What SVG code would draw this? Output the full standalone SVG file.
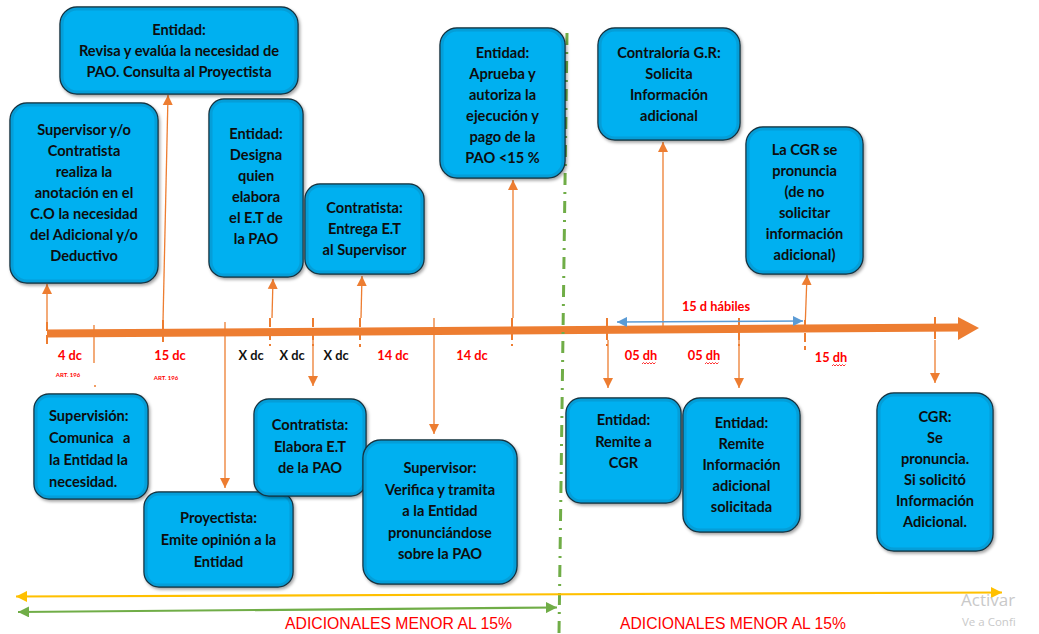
<svg xmlns="http://www.w3.org/2000/svg" width="1039" height="634" viewBox="0 0 1039 634">
  <style>
    .box rect.bg { fill: #00B0F0; stroke: #15303d; stroke-width: 1.4; }
    .box rect.edge { fill: none; stroke: #0a8fc4; stroke-width: 3; opacity: 0.55; }
    .box text { font-family: Lato, "Open Sans", "Liberation Sans", sans-serif; font-weight: bold; font-size: 14.6px; fill: #0d0d0d; text-anchor: middle; }
    .box text.left { text-anchor: start; }
    .conn { stroke: #ED7D31; stroke-width: 1.3; fill: none; }
    .tick { stroke: #ED7D31; stroke-width: 2; stroke-dasharray: 9 4; fill: none; }
    .lbl { font-family: Lato, "Open Sans", "Liberation Sans", sans-serif; font-weight: bold; font-size: 12.8px; fill: #FF0000; text-anchor: middle; }
    .lbl.blk { fill: #111; }
    .art { font-family: Lato, "Liberation Sans", sans-serif; font-weight: bold; font-size: 6px; fill: #FF0000; text-anchor: middle; }
    .band { font-family: "Liberation Sans Narrow", "Liberation Sans", Arial, sans-serif; font-size: 16px; fill: #FF0000; }
    .wm { font-family: "Open Sans", "Liberation Sans", sans-serif; fill: #c9c9c9; }
  </style>
  <defs>
    <filter id="shadow" x="-10%" y="-10%" width="125%" height="125%">
      <feDropShadow dx="1.5" dy="2" stdDeviation="1.5" flood-color="#000" flood-opacity="0.35"/>
    </filter>
    <marker id="ah" viewBox="0 0 10 10" refX="10" refY="5" markerWidth="10" markerHeight="11" markerUnits="userSpaceOnUse" orient="auto">
      <path d="M0,0 L10,5 L0,10 z" fill="#ED7D31"/>
    </marker>
    <marker id="bh" viewBox="0 0 10 10" refX="10" refY="5" markerWidth="11" markerHeight="10" markerUnits="userSpaceOnUse" orient="auto-start-reverse">
      <path d="M0,0 L10,5 L0,10 z" fill="#5B9BD5"/>
    </marker>
    <marker id="yh" viewBox="0 0 10 10" refX="10" refY="5" markerWidth="11" markerHeight="11" markerUnits="userSpaceOnUse" orient="auto-start-reverse">
      <path d="M0,0 L10,5 L0,10 z" fill="#FFC000"/>
    </marker>
    <marker id="gh" viewBox="0 0 10 10" refX="10" refY="5" markerWidth="11" markerHeight="11" markerUnits="userSpaceOnUse" orient="auto-start-reverse">
      <path d="M0,0 L10,5 L0,10 z" fill="#70AD47"/>
    </marker>
  </defs>

  <!-- main time axis -->
  <g id="timeline">
    <line x1="47" y1="333.5" x2="960" y2="327.5" stroke="#ED7D31" stroke-width="8"/>
    <polygon points="958,317 979,328 958,340" fill="#ED7D31"/>
  </g>

  <!-- phase divider -->
  <line id="divider" x1="567" y1="33" x2="559" y2="634" stroke="#70AD47" stroke-width="3" stroke-dasharray="12 7 2 7"/>

  <!-- connectors -->
  <g id="connectors">
    <!-- tick marks on the axis -->
    <line class="tick" x1="47" y1="322" x2="47" y2="346"/>
    <line class="tick" x1="163" y1="320" x2="163" y2="346"/>
    <line class="tick" x1="270" y1="318" x2="270" y2="346"/>
    <line class="tick" x1="313" y1="318" x2="313" y2="346"/>
    <line class="tick" x1="360" y1="318" x2="360" y2="347"/>
    <line class="tick" x1="512" y1="318" x2="512" y2="346"/>
    <line class="tick" x1="607" y1="318" x2="607" y2="346"/>
    <line class="tick" x1="739" y1="318" x2="739" y2="346"/>
    <line class="tick" x1="805" y1="320" x2="805" y2="350"/>
    <line class="tick" x1="935" y1="317" x2="935" y2="342"/>
    <line class="conn" x1="94" y1="325" x2="94" y2="363"/>
    <circle cx="95" cy="386" r="1" fill="#ED7D31"/>

    <!-- upward links to the boxes above -->
    <line class="conn" x1="47" y1="322" x2="47" y2="284" marker-end="url(#ah)"/>
    <line class="conn" x1="163" y1="322" x2="168" y2="95" marker-end="url(#ah)"/>
    <line class="conn" x1="272" y1="318" x2="273" y2="279" marker-end="url(#ah)"/>
    <line class="conn" x1="361" y1="318" x2="362" y2="276" marker-end="url(#ah)"/>
    <line class="conn" x1="513" y1="318" x2="513" y2="180" marker-end="url(#ah)"/>
    <line class="conn" x1="663" y1="330" x2="663" y2="142" marker-end="url(#ah)"/>
    <line class="conn" x1="805" y1="330" x2="807" y2="275" marker-end="url(#ah)"/>

    <!-- downward links to the boxes below -->
    <line class="conn" x1="225" y1="322" x2="225" y2="488" marker-end="url(#ah)"/>
    <line class="conn" x1="313" y1="340" x2="313" y2="386" marker-end="url(#ah)"/>
    <line class="conn" x1="434" y1="318" x2="434" y2="434" marker-end="url(#ah)"/>
    <line class="conn" x1="608" y1="340" x2="608" y2="388" marker-end="url(#ah)"/>
    <line class="conn" x1="739" y1="340" x2="739" y2="388" marker-end="url(#ah)"/>
    <line class="conn" x1="935" y1="340" x2="935" y2="383" marker-end="url(#ah)"/>

    <!-- business-day span -->
    <line x1="617" y1="322" x2="803" y2="321" stroke="#5B9BD5" stroke-width="1.6" marker-start="url(#bh)" marker-end="url(#bh)"/>

    <!-- range arrows at the bottom -->
    <line x1="16" y1="596.5" x2="1002" y2="592.5" stroke="#FFC000" stroke-width="2.2" marker-start="url(#yh)" marker-end="url(#yh)"/>
    <line x1="18" y1="612" x2="557" y2="607.5" stroke="#70AD47" stroke-width="2.2" marker-start="url(#gh)" marker-end="url(#gh)"/>
  </g>

  <!-- interval labels -->
  <g id="labels">
    <text class="lbl" x="70" y="360">4 dc</text>
    <text class="art" x="68" y="377">ART. 196</text>
    <text class="lbl" x="170" y="360">15 dc</text>
    <text class="art" x="166" y="380">ART. 196</text>
    <text class="lbl blk" x="251" y="360">X dc</text>
    <text class="lbl blk" x="292" y="360">X dc</text>
    <text class="lbl blk" x="336" y="360">X dc</text>
    <text class="lbl" x="393" y="360">14 dc</text>
    <text class="lbl" x="472" y="360">14 dc</text>
    <text class="lbl" x="641" y="360">05 dh</text>
    <text class="lbl" x="704" y="360">05 dh</text>
    <text class="lbl" x="831" y="362">15 dh</text>
    <text class="lbl" x="716" y="311">15 d hábiles</text>
    <!-- spell-check squiggles under "dh" -->
    <path d="M642,364 l1.5,-1.5 l1.5,1.5 l1.5,-1.5 l1.5,1.5 l1.5,-1.5 l1.5,1.5 l1.5,-1.5 l1.5,1.5 l1.5,-1.5" stroke="#FF0000" stroke-width="0.8" fill="none"/>
    <path d="M705,364 l1.5,-1.5 l1.5,1.5 l1.5,-1.5 l1.5,1.5 l1.5,-1.5 l1.5,1.5 l1.5,-1.5 l1.5,1.5 l1.5,-1.5" stroke="#FF0000" stroke-width="0.8" fill="none"/>
    <path d="M832,366 l1.5,-1.5 l1.5,1.5 l1.5,-1.5 l1.5,1.5 l1.5,-1.5 l1.5,1.5 l1.5,-1.5 l1.5,1.5 l1.5,-1.5" stroke="#FF0000" stroke-width="0.8" fill="none"/>
    <text class="band" x="285" y="629" textLength="227" lengthAdjust="spacingAndGlyphs">ADICIONALES MENOR AL 15%</text>
    <text class="band" x="620" y="629" textLength="226" lengthAdjust="spacingAndGlyphs">ADICIONALES MENOR AL 15%</text>
    <text class="wm" x="961" y="606" font-size="17">Activar</text>
    <text class="wm" x="962" y="626" font-size="11.5">Ve a Confi</text>
  </g>

  <!-- activity boxes above the axis -->
  <g id="n-supervisor-anota" class="box">
    <rect class="bg" x="10" y="103" width="148" height="180" rx="17" filter="url(#shadow)"/>
    <rect class="edge" x="12" y="105" width="144" height="176" rx="15"/>
    <text x="84" y="135">Supervisor y/o</text>
    <text x="84" y="156">Contratista</text>
    <text x="84" y="177">realiza la</text>
    <text x="84" y="198">anotación en el</text>
    <text x="84" y="219">C.O la necesidad</text>
    <text x="84" y="240">del Adicional y/o</text>
    <text x="84" y="261">Deductivo</text>
  </g>

  <g id="n-entidad-revisa" class="box">
    <rect class="bg" x="60" y="7" width="238" height="87" rx="17" filter="url(#shadow)"/>
    <rect class="edge" x="62" y="9" width="234" height="83" rx="15"/>
    <text x="179" y="35">Entidad:</text>
    <text x="179" y="56">Revisa y evalúa la necesidad de</text>
    <text x="179" y="77">PAO. Consulta al Proyectista</text>
  </g>

  <g id="n-entidad-designa" class="box">
    <rect class="bg" x="209" y="99" width="94" height="178" rx="15" filter="url(#shadow)"/>
    <rect class="edge" x="211" y="101" width="90" height="174" rx="13"/>
    <text x="256" y="139">Entidad:</text>
    <text x="256" y="160">Designa</text>
    <text x="256" y="181">quien</text>
    <text x="256" y="202">elabora</text>
    <text x="256" y="223">el E.T de</text>
    <text x="256" y="244">la PAO</text>
  </g>

  <g id="n-contratista-entrega" class="box">
    <rect class="bg" x="305" y="184" width="119" height="90" rx="15" filter="url(#shadow)"/>
    <rect class="edge" x="307" y="186" width="115" height="86" rx="13"/>
    <text x="364.5" y="213">Contratista:</text>
    <text x="364.5" y="234">Entrega E.T</text>
    <text x="364.5" y="255">al Supervisor</text>
  </g>

  <g id="n-entidad-aprueba" class="box">
    <rect class="bg" x="440" y="28" width="125" height="150" rx="17" filter="url(#shadow)"/>
    <rect class="edge" x="442" y="30" width="121" height="146" rx="15"/>
    <text x="502.5" y="58">Entidad:</text>
    <text x="502.5" y="79">Aprueba y</text>
    <text x="502.5" y="100">autoriza la</text>
    <text x="502.5" y="121">ejecución y</text>
    <text x="502.5" y="142">pago de la</text>
    <text x="502.5" y="163">PAO &lt;15 %</text>
  </g>

  <g id="n-contraloria-solicita" class="box">
    <rect class="bg" x="598" y="28" width="142" height="112" rx="17" filter="url(#shadow)"/>
    <rect class="edge" x="600" y="30" width="138" height="108" rx="15"/>
    <text x="669" y="58">Contraloría G.R:</text>
    <text x="669" y="79">Solicita</text>
    <text x="669" y="100">Información</text>
    <text x="669" y="121">adicional</text>
  </g>

  <g id="n-cgr-pronuncia" class="box">
    <rect class="bg" x="746" y="127" width="117" height="147" rx="17" filter="url(#shadow)"/>
    <rect class="edge" x="748" y="129" width="113" height="143" rx="15"/>
    <text x="804.5" y="155">La CGR se</text>
    <text x="804.5" y="176">pronuncia</text>
    <text x="804.5" y="197">(de no</text>
    <text x="804.5" y="218">solicitar</text>
    <text x="804.5" y="239">información</text>
    <text x="804.5" y="260">adicional)</text>
  </g>

  <!-- activity boxes below the axis -->
  <g id="n-supervision-comunica" class="box">
    <rect class="bg" x="34" y="394" width="114" height="105" rx="15" filter="url(#shadow)"/>
    <rect class="edge" x="36" y="396" width="110" height="101" rx="13"/>
    <text class="left" x="49" y="421">Supervisión:</text>
    <text class="left" x="49" y="443">Comunica</text>
    <text class="left" x="123" y="443">a</text>
    <text class="left" x="49" y="465">la Entidad la</text>
    <text class="left" x="49" y="487">necesidad.</text>
  </g>

  <g id="n-proyectista" class="box">
    <rect class="bg" x="144" y="492" width="149" height="95" rx="15" filter="url(#shadow)"/>
    <rect class="edge" x="146" y="494" width="145" height="91" rx="13"/>
    <text x="218.5" y="523">Proyectista:</text>
    <text x="218.5" y="545">Emite opinión a la</text>
    <text x="218.5" y="567">Entidad</text>
  </g>

  <g id="n-contratista-elabora" class="box">
    <rect class="bg" x="254" y="399" width="112" height="97" rx="15" filter="url(#shadow)"/>
    <rect class="edge" x="256" y="401" width="108" height="93" rx="13"/>
    <text x="310" y="430">Contratista:</text>
    <text x="310" y="452">Elabora E.T</text>
    <text x="310" y="473">de la PAO</text>
  </g>

  <g id="n-supervisor-verifica" class="box">
    <rect class="bg" x="363" y="440" width="154" height="144" rx="18" filter="url(#shadow)"/>
    <rect class="edge" x="365" y="442" width="150" height="140" rx="16"/>
    <text x="440" y="473">Supervisor:</text>
    <text x="440" y="495">Verifica y tramita</text>
    <text x="440" y="516">a la Entidad</text>
    <text x="440" y="538">pronunciándose</text>
    <text x="440" y="559">sobre la PAO</text>
  </g>

  <g id="n-entidad-remite-cgr" class="box">
    <rect class="bg" x="566" y="398" width="115" height="105" rx="15" filter="url(#shadow)"/>
    <rect class="edge" x="568" y="400" width="111" height="101" rx="13"/>
    <text x="623.5" y="425">Entidad:</text>
    <text x="623.5" y="447">Remite a</text>
    <text x="623.5" y="468">CGR</text>
  </g>

  <g id="n-entidad-remite-info" class="box">
    <rect class="bg" x="683" y="398" width="117" height="134" rx="17" filter="url(#shadow)"/>
    <rect class="edge" x="685" y="400" width="113" height="130" rx="15"/>
    <text x="741.5" y="428">Entidad:</text>
    <text x="741.5" y="449">Remite</text>
    <text x="741.5" y="470">Información</text>
    <text x="741.5" y="491">adicional</text>
    <text x="741.5" y="512">solicitada</text>
  </g>

  <g id="n-cgr-final" class="box">
    <rect class="bg" x="877" y="393" width="116" height="158" rx="17" filter="url(#shadow)"/>
    <rect class="edge" x="879" y="395" width="112" height="154" rx="15"/>
    <text x="935" y="422">CGR:</text>
    <text x="935" y="443">Se</text>
    <text x="935" y="464">pronuncia.</text>
    <text x="935" y="485">Si solicitó</text>
    <text x="935" y="506">Información</text>
    <text x="935" y="527">Adicional.</text>
  </g>
</svg>
